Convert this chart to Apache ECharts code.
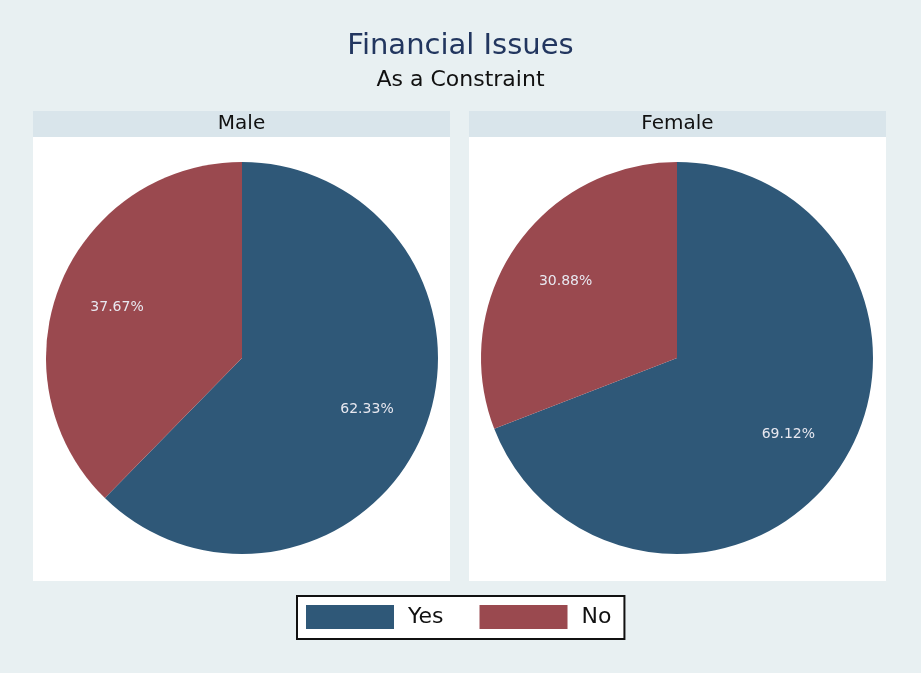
<!DOCTYPE html>
<html>
<head>
<meta charset="utf-8">
<script src="https://cdn.jsdelivr.net/npm/echarts@6/dist/echarts.min.js"></script>
<style>
  html, body { margin: 0; padding: 0; background: #e8f0f2; }
  #chart { width: 921px; height: 673px; }
</style>
</head>
<body>
<div id="chart"></div>
<script>
// data
var panels = ["Male", "Female"];
var categories = ["Yes", "No"];
var maleValues = [62.33, 37.67];
var femaleValues = [69.12, 30.88];

var colors = ["#2f5878", "#9a494f"];
var font = "DejaVu Sans";

var chart = echarts.init(document.getElementById("chart"));

function toData(values) {
  return categories.map(function (c, i) {
    return { name: c, value: values[i] };
  });
}

// panel boxes (x of each panel)
var panelX = [33, 469];
var panelW = 417;
var centers = [[242, 358], [677, 358]];
var allValues = [maleValues, femaleValues];

var graphics = [];
panels.forEach(function (p, i) {
  graphics.push({
    type: "rect",
    shape: { x: panelX[i], y: 111, width: panelW, height: 26 },
    style: { fill: "#d9e5eb" },
    silent: true
  });
  graphics.push({
    type: "rect",
    shape: { x: panelX[i], y: 137, width: panelW, height: 444 },
    style: { fill: "#ffffff" },
    silent: true
  });
  graphics.push({
    type: "text",
    x: panelX[i] + panelW / 2,
    y: 124,
    style: {
      text: p,
      fill: "#111",
      font: "20px " + font,
      textAlign: "center",
      textVerticalAlign: "middle"
    },
    silent: true
  });
});

var series = [];
// the pies
allValues.forEach(function (vals, i) {
  series.push({
    type: "pie",
    center: centers[i],
    radius: [0, 196],
    startAngle: 90,
    clockwise: true,
    silent: true,
    label: { show: false },
    labelLine: { show: false },
    itemStyle: {
      color: function (p) { return colors[p.dataIndex]; }
    },
    data: toData(vals),
    z: 3
  });
});
// transparent rings only for putting the % labels at ~2/3 of radius
allValues.forEach(function (vals, i) {
  series.push({
    type: "pie",
    center: centers[i],
    radius: [68, 196],
    startAngle: 90,
    clockwise: true,
    silent: true,
    legendHoverLink: false,
    itemStyle: { color: "transparent" },
    label: {
      show: true,
      position: "inside",
      formatter: "{c}%",
      color: "#e8e8f0",
      fontSize: 14,
      fontFamily: font
    },
    labelLine: { show: false },
    data: toData(vals),
    z: 4
  });
});

chart.setOption({
  backgroundColor: "#e8f0f2",
  animation: false,
  color: colors,
  title: {
    text: "Financial Issues",
    subtext: "As a Constraint",
    left: "center",
    top: 27,
    itemGap: 8,
    textStyle: { fontFamily: font, fontSize: 29, fontWeight: "normal", color: "#22365f" },
    subtextStyle: { fontFamily: font, fontSize: 22, color: "#111" }
  },
  legend: {
    data: categories,
    left: 297,
    top: 596,
    orient: "horizontal",
    itemWidth: 88,
    itemHeight: 24,
    itemGap: 36,
    padding: [9, 13, 10, 9],
    backgroundColor: "#ffffff",
    borderColor: "#111",
    borderWidth: 2,
    borderRadius: 0,
    icon: "rect",
    selectedMode: false,
    textStyle: { fontFamily: font, fontSize: 22, color: "#111", padding: [0, 0, 0, 9] }
  },
  graphic: graphics,
  series: series
});
</script>
</body>
</html>
